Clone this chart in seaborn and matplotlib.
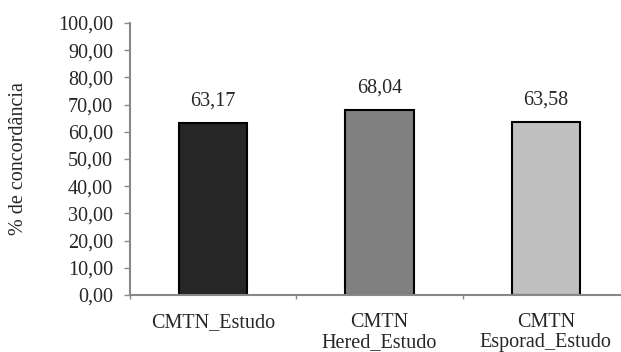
import matplotlib
matplotlib.use("Agg")
import matplotlib.pyplot as plt
import seaborn as sns
import pandas as pd
from matplotlib.ticker import FuncFormatter, FixedLocator

categories = ["CMTN_Estudo", "CMTN\nHered_Estudo", "CMTN\nEsporad_Estudo"]
values = [63.17, 68.04, 63.58]
colors = ["#262626", "#808080", "#c0c0c0"]
yticks = [0, 10, 20, 30, 40, 50, 60, 70, 80, 90, 100]

sns.set_theme(style="white")
plt.rcParams["font.family"] = ["Liberation Serif", "DejaVu Serif"]

df = pd.DataFrame({"cat": categories, "val": values})

fig = plt.figure(figsize=(6.21, 3.52), dpi=100)
ax = fig.add_axes([130/621, 57/352, 499/621, 272/352])

sns.barplot(data=df, x="cat", y="val", hue="cat", palette=colors, legend=False,
            width=0.41, edgecolor="black", linewidth=1.5, saturation=1, ax=ax)

ax.set_xlim(-0.5, 2.5)
ax.set_ylim(0, 100)
ax.set_yticks(yticks)
ax.yaxis.set_major_formatter(FuncFormatter(lambda v, p: f"{v:.2f}".replace(".", ",")))
ax.tick_params(axis="y", which="major", length=4.3, width=1, color="#888888", labelsize=14.5, pad=8, direction="out", left=True)
ax.tick_params(axis="x", which="major", length=0, labelsize=14.5, pad=13)
for lbl in ax.get_xticklabels():
    lbl.set_linespacing(1.1)
ax.xaxis.set_minor_locator(FixedLocator([-0.5, 0.5, 1.5, 2.5]))
ax.tick_params(axis="x", which="minor", length=3, width=1, color="#888888", direction="out", bottom=True)

for s in ["top", "right"]:
    ax.spines[s].set_visible(False)
for s in ["left", "bottom"]:
    ax.spines[s].set_color("#888888")
    ax.spines[s].set_linewidth(1.5)

for i, v in enumerate(values):
    ax.annotate(f"{v:.2f}".replace(".", ","), (i, v), xytext=(0, 9), textcoords="offset points",
                ha="center", va="bottom", fontsize=14.5)

ax.set_xlabel("")
ax.set_ylabel("% de concordância", fontsize=14.5)
ax.yaxis.set_label_coords(-0.204, 0.5)

fig.savefig("out.png", dpi=100)
